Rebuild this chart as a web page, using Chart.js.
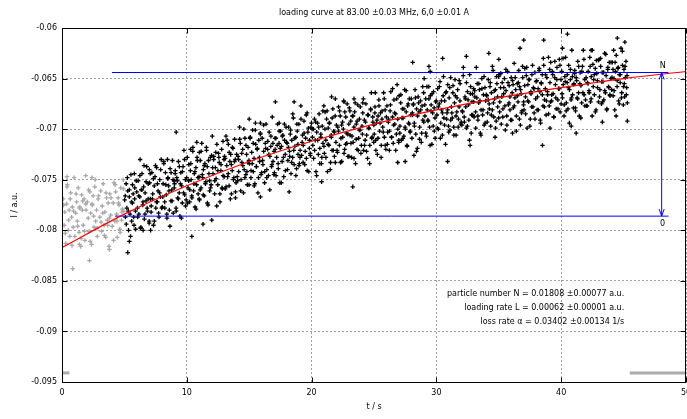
<!DOCTYPE html>
<html>
<head>
<meta charset="utf-8">
<script src="https://cdn.jsdelivr.net/npm/chart.js@4"></script>
<style>
  html, body { margin: 0; padding: 0; background: #fff; }
  canvas { display: block; }
</style>
</head>
<body>
<canvas id="c" width="687" height="419"></canvas>
<script>
// ---- axis ticks ----
const xTicks = [0, 10, 20, 30, 40, 50];
const xTickLabels = ['0', '10', '20', '30', '40', '50'];
const yTicks = [-0.095, -0.09, -0.085, -0.08, -0.075, -0.07, -0.065, -0.06];
const yTickLabels = ['-0.095', '-0.09', '-0.085', '-0.08', '-0.075', '-0.07', '-0.065', '-0.06'];

// ---- samples before the loading starts (grey) [t in s, I in a.u.] ----
const preTrigger = [
[0.10,-0.0769],[0.17,-0.0795],[0.23,-0.0782],[0.30,-0.0813],[0.37,-0.0774],[0.43,-0.0755],[0.50,-0.0800],[0.57,-0.0780],[0.63,-0.0806],[0.70,-0.0763],[0.77,-0.0787],[0.83,-0.0777],[0.90,-0.0797],[0.97,-0.0748],
[1.03,-0.0806],[1.10,-0.0783],[1.17,-0.0772],[1.23,-0.0791],[1.30,-0.0758],[1.37,-0.0802],[1.43,-0.0777],[1.50,-0.0816],[1.57,-0.0765],[1.63,-0.0780],[1.70,-0.0795],[1.77,-0.0769],[1.83,-0.0810],[1.90,-0.0774],
[2.03,-0.0772],[2.10,-0.0788],[2.17,-0.0801],[2.23,-0.0762],[2.30,-0.0783],[2.37,-0.0814],[2.43,-0.0775],[2.50,-0.0766],[2.57,-0.0797],[2.63,-0.0757],[2.70,-0.0791],[2.77,-0.0780],[2.83,-0.0806],[2.90,-0.0769],
[3.03,-0.0787],[3.10,-0.0761],[3.17,-0.0801],[3.23,-0.0776],[3.30,-0.0754],[3.37,-0.0795],[3.43,-0.0782],[3.50,-0.0807],[3.57,-0.0768],[3.63,-0.0790],[3.70,-0.0773],[3.77,-0.0816],[3.83,-0.0764],[3.90,-0.0785],
[4.03,-0.0796],[4.10,-0.0773],[4.17,-0.0753],[4.23,-0.0791],[4.30,-0.0762],[4.37,-0.0784],[4.43,-0.0807],[4.50,-0.0768],[4.57,-0.0775],[4.63,-0.0799],[4.70,-0.0758],[4.77,-0.0790],[4.83,-0.0779],[4.90,-0.0750],
[0.13,-0.0775],[0.26,-0.0803],[0.40,-0.0757],[0.53,-0.0790],[0.66,-0.0769],[0.80,-0.0815],[0.93,-0.0781],
[1.13,-0.0764],[1.26,-0.0796],[1.40,-0.0778],[1.53,-0.0808],[1.66,-0.0771],[1.80,-0.0801],[1.93,-0.0780],
[2.13,-0.0760],[2.26,-0.0811],[2.40,-0.0774],[2.53,-0.0786],[2.66,-0.0750],[2.80,-0.0798],[2.93,-0.0766],
[3.13,-0.0792],[3.26,-0.0783],[3.40,-0.0805],[3.53,-0.0763],[3.66,-0.0795],[3.80,-0.0788],[3.93,-0.0768],
[4.13,-0.0810],[4.26,-0.0755],[4.40,-0.0791],[4.53,-0.0773],[4.66,-0.0802],[4.80,-0.0782],[4.93,-0.0759],
[0.86,-0.0838],[2.20,-0.0830],[3.80,-0.0819],[1.40,-0.0814],[0.40,-0.0747],[1.90,-0.0746],[2.40,-0.0748],[4.95,-0.0781]
];

// ---- loading samples (black) [t in s, I in a.u.] ----
const loading = [
[5.02,-0.0770],[5.08,-0.0787],[5.14,-0.0754],[5.20,-0.0778],[5.27,-0.0761],[5.33,-0.0800],[5.39,-0.0767],[5.45,-0.0784],[5.52,-0.0745],[5.58,-0.0791],[5.64,-0.0773],[5.70,-0.0764],[5.77,-0.0795],[5.83,-0.0758],[5.89,-0.0781],[5.95,-0.0751],
[6.04,-0.0778],[6.10,-0.0751],[6.16,-0.0784],[6.23,-0.0767],[6.29,-0.0798],[6.35,-0.0760],[6.41,-0.0744],[6.48,-0.0775],[6.54,-0.0757],[6.60,-0.0789],[6.66,-0.0763],[6.73,-0.0771],[6.79,-0.0737],[6.85,-0.0781],[6.91,-0.0754],[6.98,-0.0793],
[7.02,-0.0753],[7.08,-0.0769],[7.14,-0.0782],[7.20,-0.0743],[7.27,-0.0764],[7.33,-0.0795],[7.39,-0.0756],[7.45,-0.0747],[7.52,-0.0778],[7.58,-0.0738],[7.64,-0.0772],[7.70,-0.0761],[7.77,-0.0787],[7.83,-0.0750],[7.89,-0.0767],[7.95,-0.0730],
[8.04,-0.0777],[8.10,-0.0754],[8.16,-0.0734],[8.23,-0.0772],[8.29,-0.0743],[8.35,-0.0765],[8.41,-0.0788],[8.48,-0.0749],[8.54,-0.0756],[8.60,-0.0780],[8.66,-0.0739],[8.73,-0.0771],[8.79,-0.0760],[8.85,-0.0731],[8.91,-0.0783],[8.98,-0.0751],
[9.02,-0.0754],[9.08,-0.0741],[9.14,-0.0778],[9.20,-0.0748],[9.27,-0.0768],[9.33,-0.0732],[9.39,-0.0763],[9.45,-0.0786],[9.52,-0.0743],[9.58,-0.0756],[9.64,-0.0773],[9.70,-0.0737],[9.77,-0.0721],[9.83,-0.0765],[9.89,-0.0750],[9.95,-0.0770],
[10.04,-0.0728],[10.10,-0.0758],[10.16,-0.0735],[10.23,-0.0772],[10.29,-0.0741],[10.35,-0.0750],[10.41,-0.0768],[10.48,-0.0722],[10.54,-0.0761],[10.60,-0.0744],[10.66,-0.0777],[10.73,-0.0738],[10.79,-0.0755],[10.85,-0.0731],[10.91,-0.0764],[10.98,-0.0747],
[11.02,-0.0770],[11.08,-0.0731],[11.14,-0.0758],[11.20,-0.0714],[11.27,-0.0748],[11.33,-0.0740],[11.39,-0.0766],[11.45,-0.0734],[11.52,-0.0752],[11.58,-0.0721],[11.64,-0.0737],[11.70,-0.0775],[11.77,-0.0744],[11.83,-0.0761],[11.89,-0.0728],[11.95,-0.0755],
[12.04,-0.0707],[12.10,-0.0744],[12.16,-0.0727],[12.23,-0.0764],[12.29,-0.0738],[12.35,-0.0749],[12.41,-0.0715],[12.48,-0.0755],[12.54,-0.0724],[12.60,-0.0733],[12.66,-0.0772],[12.73,-0.0741],[12.79,-0.0720],[12.85,-0.0759],[12.91,-0.0746],[12.98,-0.0730],
[13.02,-0.0727],[13.08,-0.0759],[13.14,-0.0707],[13.20,-0.0736],[13.27,-0.0747],[13.33,-0.0715],[13.39,-0.0756],[13.45,-0.0732],[13.52,-0.0725],[13.58,-0.0764],[13.64,-0.0741],[13.70,-0.0719],[13.77,-0.0748],[13.83,-0.0710],[13.89,-0.0730],[13.95,-0.0753],
[14.04,-0.0747],[14.10,-0.0727],[14.16,-0.0742],[14.23,-0.0698],[14.29,-0.0714],[14.35,-0.0750],[14.41,-0.0733],[14.48,-0.0720],[14.54,-0.0763],[14.60,-0.0740],[14.66,-0.0709],[14.73,-0.0745],[14.79,-0.0725],[14.85,-0.0755],[14.91,-0.0718],[14.98,-0.0731],
[15.02,-0.0734],[15.08,-0.0708],[15.14,-0.0748],[15.20,-0.0723],[15.27,-0.0701],[15.33,-0.0742],[15.39,-0.0729],[15.45,-0.0754],[15.52,-0.0715],[15.58,-0.0737],[15.64,-0.0720],[15.70,-0.0763],[15.77,-0.0711],[15.83,-0.0732],[15.89,-0.0704],[15.95,-0.0745],
[16.04,-0.0709],[16.10,-0.0735],[16.16,-0.0722],[16.23,-0.0753],[16.29,-0.0714],[16.35,-0.0695],[16.41,-0.0740],[16.48,-0.0720],[16.54,-0.0746],[16.60,-0.0703],[16.66,-0.0727],[16.73,-0.0717],[16.79,-0.0737],[16.85,-0.0688],[16.91,-0.0732],[16.98,-0.0745],
[17.02,-0.0743],[17.08,-0.0720],[17.14,-0.0709],[17.20,-0.0728],[17.27,-0.0695],[17.33,-0.0739],[17.39,-0.0714],[17.45,-0.0753],[17.52,-0.0702],[17.58,-0.0717],[17.64,-0.0732],[17.70,-0.0706],[17.77,-0.0747],[17.83,-0.0711],[17.89,-0.0725],[17.95,-0.0698],
[18.04,-0.0714],[18.10,-0.0731],[18.16,-0.0698],[18.23,-0.0722],[18.29,-0.0705],[18.35,-0.0744],[18.41,-0.0711],[18.48,-0.0728],[18.54,-0.0689],[18.60,-0.0735],[18.66,-0.0717],[18.73,-0.0708],[18.79,-0.0739],[18.85,-0.0702],[18.91,-0.0725],[18.98,-0.0695],
[19.02,-0.0734],[19.08,-0.0721],[19.14,-0.0677],[19.20,-0.0726],[19.27,-0.0706],[19.33,-0.0716],[19.39,-0.0692],[19.45,-0.0735],[19.52,-0.0709],[19.58,-0.0729],[19.64,-0.0684],[19.70,-0.0703],[19.77,-0.0742],[19.83,-0.0711],[19.89,-0.0724],[19.95,-0.0698],
[20.04,-0.0700],[20.10,-0.0716],[20.16,-0.0729],[20.23,-0.0690],[20.29,-0.0711],[20.35,-0.0742],[20.41,-0.0703],[20.48,-0.0694],[20.54,-0.0725],[20.60,-0.0685],[20.66,-0.0719],[20.73,-0.0708],[20.79,-0.0734],[20.85,-0.0697],[20.91,-0.0714],[20.98,-0.0677],
[21.02,-0.0724],[21.08,-0.0683],[21.14,-0.0711],[21.20,-0.0690],[21.27,-0.0742],[21.33,-0.0699],[21.39,-0.0716],[21.45,-0.0694],[21.52,-0.0733],[21.58,-0.0708],[21.64,-0.0721],[21.70,-0.0680],[21.77,-0.0702],[21.83,-0.0727],[21.89,-0.0687],[21.95,-0.0713],
[22.04,-0.0721],[22.10,-0.0698],[22.16,-0.0678],[22.23,-0.0716],[22.29,-0.0687],[22.35,-0.0709],[22.41,-0.0732],[22.48,-0.0693],[22.54,-0.0700],[22.60,-0.0724],[22.66,-0.0683],[22.73,-0.0715],[22.79,-0.0704],[22.85,-0.0675],[22.91,-0.0727],[22.98,-0.0695],
[23.02,-0.0679],[23.08,-0.0706],[23.14,-0.0692],[23.20,-0.0728],[23.27,-0.0687],[23.33,-0.0713],[23.39,-0.0698],[23.45,-0.0683],[23.52,-0.0734],[23.58,-0.0695],[23.64,-0.0720],[23.70,-0.0676],[23.77,-0.0709],[23.83,-0.0690],[23.89,-0.0701],[23.95,-0.0724],
[24.04,-0.0697],[24.10,-0.0684],[24.16,-0.0721],[24.23,-0.0691],[24.29,-0.0711],[24.35,-0.0675],[24.41,-0.0706],[24.48,-0.0729],[24.54,-0.0686],[24.60,-0.0699],[24.66,-0.0716],[24.73,-0.0680],[24.79,-0.0664],[24.85,-0.0708],[24.91,-0.0693],[24.98,-0.0713],
[25.02,-0.0705],[25.08,-0.0678],[25.14,-0.0711],[25.20,-0.0694],[25.27,-0.0725],[25.33,-0.0687],[25.39,-0.0671],[25.45,-0.0702],[25.52,-0.0684],[25.58,-0.0716],[25.64,-0.0690],[25.70,-0.0698],[25.77,-0.0664],[25.83,-0.0708],[25.89,-0.0681],[25.95,-0.0720],
[26.04,-0.0677],[26.10,-0.0703],[26.16,-0.0690],[26.23,-0.0721],[26.29,-0.0682],[26.35,-0.0663],[26.41,-0.0708],[26.48,-0.0688],[26.54,-0.0714],[26.60,-0.0671],[26.66,-0.0695],[26.73,-0.0685],[26.79,-0.0705],[26.85,-0.0656],[26.91,-0.0700],[26.98,-0.0713],
[27.02,-0.0667],[27.08,-0.0697],[27.14,-0.0674],[27.20,-0.0711],[27.27,-0.0680],[27.33,-0.0689],[27.39,-0.0707],[27.45,-0.0661],[27.52,-0.0700],[27.58,-0.0683],[27.64,-0.0716],[27.70,-0.0677],[27.77,-0.0694],[27.83,-0.0670],[27.89,-0.0703],[27.95,-0.0686],
[28.04,-0.0709],[28.10,-0.0686],[28.16,-0.0675],[28.23,-0.0694],[28.29,-0.0661],[28.35,-0.0705],[28.41,-0.0680],[28.48,-0.0719],[28.54,-0.0668],[28.60,-0.0683],[28.66,-0.0698],[28.73,-0.0672],[28.79,-0.0713],[28.85,-0.0677],[28.91,-0.0691],[28.98,-0.0664],
[29.02,-0.0650],[29.08,-0.0687],[29.14,-0.0670],[29.20,-0.0707],[29.27,-0.0681],[29.33,-0.0692],[29.39,-0.0658],[29.45,-0.0698],[29.52,-0.0667],[29.58,-0.0676],[29.64,-0.0715],[29.70,-0.0684],[29.77,-0.0663],[29.83,-0.0702],[29.89,-0.0689],[29.95,-0.0673],
[30.04,-0.0686],[30.10,-0.0660],[30.16,-0.0700],[30.23,-0.0675],[30.29,-0.0653],[30.35,-0.0694],[30.41,-0.0681],[30.48,-0.0706],[30.54,-0.0667],[30.60,-0.0689],[30.66,-0.0672],[30.73,-0.0715],[30.79,-0.0663],[30.85,-0.0684],[30.91,-0.0656],[30.97,-0.0697],
[31.02,-0.0669],[31.08,-0.0701],[31.14,-0.0649],[31.20,-0.0678],[31.27,-0.0689],[31.33,-0.0657],[31.39,-0.0698],[31.45,-0.0674],[31.52,-0.0667],[31.58,-0.0706],[31.64,-0.0683],[31.70,-0.0661],[31.77,-0.0690],[31.83,-0.0652],[31.89,-0.0672],[31.95,-0.0695],
[32.04,-0.0696],[32.10,-0.0683],[32.16,-0.0639],[32.23,-0.0688],[32.29,-0.0668],[32.35,-0.0678],[32.41,-0.0654],[32.48,-0.0697],[32.54,-0.0671],[32.60,-0.0691],[32.66,-0.0646],[32.73,-0.0665],[32.79,-0.0704],[32.85,-0.0673],[32.91,-0.0686],[32.98,-0.0660],
[33.02,-0.0688],[33.08,-0.0668],[33.14,-0.0683],[33.20,-0.0639],[33.27,-0.0655],[33.33,-0.0691],[33.39,-0.0674],[33.45,-0.0661],[33.52,-0.0704],[33.58,-0.0681],[33.64,-0.0650],[33.70,-0.0686],[33.77,-0.0666],[33.83,-0.0696],[33.89,-0.0659],[33.95,-0.0672],
[34.04,-0.0667],[34.10,-0.0684],[34.16,-0.0651],[34.23,-0.0675],[34.29,-0.0658],[34.35,-0.0697],[34.41,-0.0664],[34.48,-0.0681],[34.54,-0.0642],[34.60,-0.0688],[34.66,-0.0670],[34.73,-0.0661],[34.79,-0.0692],[34.85,-0.0655],[34.91,-0.0678],[34.98,-0.0648],
[35.02,-0.0646],[35.08,-0.0673],[35.14,-0.0659],[35.20,-0.0695],[35.27,-0.0654],[35.33,-0.0680],[35.39,-0.0665],[35.45,-0.0650],[35.52,-0.0701],[35.58,-0.0662],[35.64,-0.0687],[35.70,-0.0643],[35.77,-0.0676],[35.83,-0.0657],[35.89,-0.0668],[35.95,-0.0691],
[36.04,-0.0691],[36.10,-0.0652],[36.16,-0.0679],[36.23,-0.0635],[36.29,-0.0669],[36.35,-0.0661],[36.41,-0.0687],[36.48,-0.0655],[36.54,-0.0673],[36.60,-0.0642],[36.66,-0.0658],[36.73,-0.0696],[36.79,-0.0665],[36.85,-0.0682],[36.91,-0.0649],[36.98,-0.0676],
[37.02,-0.0681],[37.08,-0.0640],[37.14,-0.0668],[37.20,-0.0647],[37.27,-0.0699],[37.33,-0.0656],[37.39,-0.0673],[37.45,-0.0651],[37.52,-0.0690],[37.58,-0.0665],[37.64,-0.0678],[37.70,-0.0637],[37.77,-0.0659],[37.83,-0.0684],[37.89,-0.0644],[37.95,-0.0670],
[38.04,-0.0652],[38.10,-0.0668],[38.16,-0.0681],[38.23,-0.0642],[38.29,-0.0663],[38.35,-0.0694],[38.41,-0.0655],[38.48,-0.0646],[38.54,-0.0677],[38.60,-0.0637],[38.66,-0.0671],[38.73,-0.0660],[38.79,-0.0686],[38.85,-0.0649],[38.91,-0.0666],[38.98,-0.0629],
[39.04,-0.0677],[39.10,-0.0654],[39.16,-0.0634],[39.23,-0.0672],[39.29,-0.0643],[39.35,-0.0665],[39.41,-0.0688],[39.48,-0.0649],[39.54,-0.0656],[39.60,-0.0680],[39.66,-0.0639],[39.73,-0.0671],[39.79,-0.0660],[39.85,-0.0631],[39.91,-0.0683],[39.98,-0.0651],
[40.04,-0.0643],[40.10,-0.0669],[40.16,-0.0656],[40.23,-0.0687],[40.29,-0.0648],[40.35,-0.0629],[40.41,-0.0674],[40.48,-0.0654],[40.54,-0.0680],[40.60,-0.0637],[40.66,-0.0661],[40.73,-0.0651],[40.79,-0.0671],[40.85,-0.0622],[40.91,-0.0666],[40.98,-0.0679],
[41.02,-0.0655],[41.08,-0.0642],[41.14,-0.0679],[41.20,-0.0649],[41.27,-0.0669],[41.33,-0.0633],[41.39,-0.0664],[41.45,-0.0687],[41.52,-0.0644],[41.58,-0.0657],[41.64,-0.0674],[41.70,-0.0638],[41.77,-0.0622],[41.83,-0.0666],[41.89,-0.0651],[41.95,-0.0671],
[42.04,-0.0677],[42.10,-0.0654],[42.16,-0.0643],[42.23,-0.0662],[42.29,-0.0629],[42.35,-0.0673],[42.41,-0.0648],[42.48,-0.0687],[42.54,-0.0636],[42.60,-0.0651],[42.66,-0.0666],[42.73,-0.0640],[42.79,-0.0681],[42.85,-0.0645],[42.91,-0.0659],[42.98,-0.0632],
[43.04,-0.0631],[43.10,-0.0661],[43.16,-0.0638],[43.23,-0.0675],[43.29,-0.0644],[43.35,-0.0653],[43.41,-0.0671],[43.48,-0.0625],[43.54,-0.0664],[43.60,-0.0647],[43.66,-0.0680],[43.73,-0.0641],[43.79,-0.0658],[43.85,-0.0634],[43.91,-0.0667],[43.98,-0.0650],
[44.04,-0.0661],[44.10,-0.0634],[44.16,-0.0667],[44.23,-0.0650],[44.29,-0.0681],[44.35,-0.0643],[44.41,-0.0627],[44.48,-0.0658],[44.54,-0.0640],[44.60,-0.0672],[44.66,-0.0646],[44.73,-0.0654],[44.79,-0.0620],[44.85,-0.0664],[44.91,-0.0637],[44.98,-0.0676],
[45.03,-0.0641],[45.08,-0.0668],[45.14,-0.0649],[45.19,-0.0633],[45.25,-0.0659],[45.30,-0.0674],
[5.07,-0.0766],[5.15,-0.0794],[5.24,-0.0748],[5.32,-0.0781],[5.40,-0.0760],[5.49,-0.0806],[5.57,-0.0772],[5.65,-0.0755],[5.74,-0.0787],[5.82,-0.0769],[5.90,-0.0799],[5.99,-0.0762],
[6.07,-0.0787],[6.15,-0.0766],[6.24,-0.0746],[6.32,-0.0797],[6.40,-0.0760],[6.49,-0.0772],[6.57,-0.0736],[6.65,-0.0784],[6.74,-0.0752],[6.82,-0.0778],[6.90,-0.0769],[6.99,-0.0791],
[7.07,-0.0744],[7.15,-0.0776],[7.24,-0.0769],[7.32,-0.0749],[7.40,-0.0791],[7.49,-0.0736],[7.57,-0.0772],[7.65,-0.0754],[7.74,-0.0783],[7.82,-0.0763],[7.90,-0.0740],[7.99,-0.0778],
[8.07,-0.0767],[8.15,-0.0732],[8.24,-0.0778],[8.32,-0.0755],[8.40,-0.0784],[8.49,-0.0748],[8.57,-0.0761],[8.65,-0.0796],[8.74,-0.0743],[8.82,-0.0771],[8.90,-0.0750],[8.99,-0.0758],
[9.07,-0.0744],[9.15,-0.0781],[9.24,-0.0751],[9.32,-0.0769],[9.40,-0.0737],[9.49,-0.0754],[9.57,-0.0788],[9.65,-0.0742],[9.74,-0.0763],[9.82,-0.0730],[9.90,-0.0776],[9.99,-0.0748],
[10.07,-0.0773],[10.15,-0.0751],[10.24,-0.0760],[10.32,-0.0734],[10.40,-0.0766],[10.49,-0.0718],[10.57,-0.0754],[10.65,-0.0742],[10.74,-0.0779],[10.82,-0.0728],[10.90,-0.0748],[10.99,-0.0769],
[11.07,-0.0760],[11.15,-0.0722],[11.24,-0.0745],[11.32,-0.0765],[11.40,-0.0736],[11.49,-0.0754],[11.57,-0.0718],[11.65,-0.0773],[11.74,-0.0731],[11.82,-0.0751],[11.90,-0.0758],[11.99,-0.0726],
[12.07,-0.0738],[12.15,-0.0730],[12.24,-0.0751],[12.32,-0.0723],[12.40,-0.0776],[12.49,-0.0741],[12.57,-0.0728],[12.65,-0.0764],[12.74,-0.0735],[12.82,-0.0758],[12.90,-0.0712],[12.99,-0.0747],
[13.07,-0.0729],[13.15,-0.0757],[13.24,-0.0711],[13.32,-0.0744],[13.40,-0.0723],[13.49,-0.0769],[13.57,-0.0735],[13.65,-0.0718],[13.74,-0.0750],[13.82,-0.0732],[13.90,-0.0762],[13.99,-0.0725],
[14.07,-0.0751],[14.15,-0.0730],[14.24,-0.0710],[14.32,-0.0761],[14.40,-0.0724],[14.49,-0.0736],[14.57,-0.0700],[14.65,-0.0748],[14.74,-0.0716],[14.82,-0.0742],[14.90,-0.0733],[14.99,-0.0755],
[15.07,-0.0709],[15.15,-0.0741],[15.24,-0.0734],[15.32,-0.0714],[15.40,-0.0756],[15.49,-0.0701],[15.57,-0.0737],[15.65,-0.0719],[15.74,-0.0748],[15.82,-0.0728],[15.90,-0.0705],[15.99,-0.0743],
[16.07,-0.0731],[16.15,-0.0696],[16.24,-0.0742],[16.32,-0.0719],[16.40,-0.0748],[16.49,-0.0712],[16.57,-0.0725],[16.65,-0.0760],[16.74,-0.0707],[16.82,-0.0735],[16.90,-0.0714],[16.99,-0.0722],
[17.07,-0.0709],[17.15,-0.0746],[17.24,-0.0716],[17.32,-0.0734],[17.40,-0.0702],[17.49,-0.0719],[17.57,-0.0753],[17.65,-0.0707],[17.74,-0.0728],[17.82,-0.0695],[17.90,-0.0741],[17.99,-0.0713],
[18.07,-0.0740],[18.15,-0.0718],[18.24,-0.0727],[18.32,-0.0701],[18.40,-0.0733],[18.49,-0.0685],[18.57,-0.0721],[18.65,-0.0709],[18.74,-0.0746],[18.82,-0.0695],[18.90,-0.0715],[18.99,-0.0736],
[19.07,-0.0728],[19.15,-0.0690],[19.24,-0.0713],[19.32,-0.0733],[19.40,-0.0704],[19.49,-0.0722],[19.57,-0.0686],[19.65,-0.0741],[19.74,-0.0699],[19.82,-0.0719],[19.90,-0.0726],[19.99,-0.0694],
[20.07,-0.0708],[20.15,-0.0700],[20.24,-0.0721],[20.32,-0.0693],[20.40,-0.0746],[20.49,-0.0711],[20.57,-0.0698],[20.65,-0.0734],[20.74,-0.0705],[20.82,-0.0728],[20.90,-0.0682],[20.99,-0.0717],
[21.07,-0.0700],[21.15,-0.0728],[21.24,-0.0682],[21.32,-0.0715],[21.40,-0.0694],[21.49,-0.0740],[21.57,-0.0706],[21.65,-0.0689],[21.74,-0.0721],[21.82,-0.0703],[21.90,-0.0733],[21.99,-0.0696],
[22.07,-0.0723],[22.15,-0.0702],[22.24,-0.0682],[22.32,-0.0733],[22.40,-0.0696],[22.49,-0.0708],[22.57,-0.0672],[22.65,-0.0720],[22.74,-0.0688],[22.82,-0.0714],[22.90,-0.0705],[22.99,-0.0727],
[23.07,-0.0682],[23.15,-0.0714],[23.24,-0.0707],[23.32,-0.0687],[23.40,-0.0729],[23.49,-0.0674],[23.57,-0.0710],[23.65,-0.0692],[23.74,-0.0721],[23.82,-0.0701],[23.90,-0.0678],[23.99,-0.0716],
[24.07,-0.0705],[24.15,-0.0670],[24.24,-0.0716],[24.32,-0.0693],[24.40,-0.0722],[24.49,-0.0686],[24.57,-0.0699],[24.65,-0.0734],[24.74,-0.0681],[24.82,-0.0709],[24.90,-0.0688],[24.99,-0.0696],
[25.07,-0.0684],[25.15,-0.0721],[25.24,-0.0691],[25.32,-0.0709],[25.40,-0.0677],[25.49,-0.0694],[25.57,-0.0728],[25.65,-0.0682],[25.74,-0.0703],[25.82,-0.0670],[25.90,-0.0716],[25.99,-0.0688],
[26.07,-0.0715],[26.15,-0.0693],[26.24,-0.0702],[26.32,-0.0676],[26.40,-0.0708],[26.49,-0.0660],[26.57,-0.0696],[26.65,-0.0684],[26.74,-0.0721],[26.82,-0.0670],[26.90,-0.0690],[26.99,-0.0711],
[27.07,-0.0704],[27.15,-0.0666],[27.24,-0.0689],[27.32,-0.0709],[27.40,-0.0680],[27.49,-0.0698],[27.57,-0.0662],[27.65,-0.0717],[27.74,-0.0675],[27.82,-0.0695],[27.90,-0.0702],[27.99,-0.0670],
[28.07,-0.0684],[28.15,-0.0676],[28.24,-0.0697],[28.32,-0.0669],[28.40,-0.0722],[28.49,-0.0687],[28.57,-0.0674],[28.65,-0.0710],[28.74,-0.0681],[28.82,-0.0704],[28.90,-0.0658],[28.99,-0.0693],
[29.07,-0.0676],[29.15,-0.0704],[29.24,-0.0658],[29.32,-0.0691],[29.40,-0.0670],[29.49,-0.0716],[29.57,-0.0682],[29.65,-0.0665],[29.74,-0.0697],[29.82,-0.0679],[29.90,-0.0709],[29.99,-0.0672],
[30.07,-0.0699],[30.15,-0.0678],[30.24,-0.0658],[30.32,-0.0709],[30.40,-0.0672],[30.49,-0.0684],[30.57,-0.0648],[30.65,-0.0696],[30.74,-0.0664],[30.82,-0.0690],[30.90,-0.0681],[30.99,-0.0703],
[31.07,-0.0659],[31.15,-0.0691],[31.24,-0.0684],[31.32,-0.0664],[31.40,-0.0706],[31.49,-0.0651],[31.57,-0.0687],[31.65,-0.0669],[31.74,-0.0698],[31.82,-0.0678],[31.90,-0.0655],[31.99,-0.0693],
[32.07,-0.0682],[32.15,-0.0647],[32.24,-0.0693],[32.32,-0.0670],[32.40,-0.0699],[32.49,-0.0663],[32.57,-0.0676],[32.65,-0.0711],[32.74,-0.0658],[32.82,-0.0686],[32.90,-0.0665],[32.99,-0.0673],
[33.07,-0.0662],[33.15,-0.0699],[33.24,-0.0669],[33.32,-0.0687],[33.40,-0.0655],[33.49,-0.0672],[33.57,-0.0706],[33.65,-0.0660],[33.74,-0.0681],[33.82,-0.0648],[33.90,-0.0694],[33.99,-0.0666],
[34.07,-0.0693],[34.15,-0.0671],[34.24,-0.0680],[34.32,-0.0654],[34.40,-0.0686],[34.49,-0.0638],[34.57,-0.0674],[34.65,-0.0662],[34.74,-0.0699],[34.82,-0.0648],[34.90,-0.0668],[34.99,-0.0689],
[35.07,-0.0683],[35.15,-0.0645],[35.24,-0.0668],[35.32,-0.0688],[35.40,-0.0659],[35.49,-0.0677],[35.57,-0.0641],[35.65,-0.0696],[35.74,-0.0654],[35.82,-0.0674],[35.90,-0.0681],[35.99,-0.0649],
[36.07,-0.0664],[36.15,-0.0656],[36.24,-0.0677],[36.32,-0.0649],[36.40,-0.0702],[36.49,-0.0667],[36.57,-0.0654],[36.65,-0.0690],[36.74,-0.0661],[36.82,-0.0684],[36.90,-0.0638],[36.99,-0.0673],
[37.07,-0.0657],[37.15,-0.0685],[37.24,-0.0639],[37.32,-0.0672],[37.40,-0.0651],[37.49,-0.0697],[37.57,-0.0663],[37.65,-0.0646],[37.74,-0.0678],[37.82,-0.0660],[37.90,-0.0690],[37.99,-0.0653],
[38.07,-0.0681],[38.15,-0.0660],[38.24,-0.0640],[38.32,-0.0691],[38.40,-0.0654],[38.49,-0.0666],[38.57,-0.0630],[38.65,-0.0678],[38.74,-0.0646],[38.82,-0.0672],[38.90,-0.0663],[38.99,-0.0685],
[39.07,-0.0641],[39.15,-0.0673],[39.24,-0.0666],[39.32,-0.0646],[39.40,-0.0688],[39.49,-0.0633],[39.57,-0.0669],[39.65,-0.0651],[39.74,-0.0680],[39.82,-0.0660],[39.90,-0.0637],[39.99,-0.0675],
[40.07,-0.0665],[40.15,-0.0630],[40.24,-0.0676],[40.32,-0.0653],[40.40,-0.0682],[40.49,-0.0646],[40.57,-0.0659],[40.65,-0.0694],[40.74,-0.0641],[40.82,-0.0669],[40.90,-0.0648],[40.99,-0.0656],
[41.07,-0.0645],[41.15,-0.0682],[41.24,-0.0652],[41.32,-0.0670],[41.40,-0.0638],[41.49,-0.0655],[41.57,-0.0689],[41.65,-0.0643],[41.74,-0.0664],[41.82,-0.0631],[41.90,-0.0677],[41.99,-0.0649],
[42.07,-0.0677],[42.15,-0.0655],[42.24,-0.0664],[42.32,-0.0638],[42.40,-0.0670],[42.49,-0.0622],[42.57,-0.0658],[42.65,-0.0646],[42.74,-0.0683],[42.82,-0.0632],[42.90,-0.0652],[42.99,-0.0673],
[43.07,-0.0668],[43.15,-0.0630],[43.24,-0.0653],[43.32,-0.0673],[43.40,-0.0644],[43.49,-0.0662],[43.57,-0.0626],[43.65,-0.0681],[43.74,-0.0639],[43.82,-0.0659],[43.90,-0.0666],[43.99,-0.0634],
[44.07,-0.0649],[44.15,-0.0641],[44.24,-0.0662],[44.32,-0.0634],[44.40,-0.0687],[44.49,-0.0652],[44.57,-0.0639],[44.65,-0.0675],[44.74,-0.0646],[44.82,-0.0669],[44.90,-0.0623],[44.99,-0.0658],
[45.06,-0.0655],[45.12,-0.0638],[45.22,-0.0666],[45.28,-0.0647],
[5.27,-0.0822],[5.40,-0.0811],[6.50,-0.0800],[7.10,-0.0800],[10.40,-0.0806],[11.30,-0.0794],[12.00,-0.0790],[5.80,-0.0744],[6.26,-0.0730],[7.00,-0.0740],[8.45,-0.0730],[9.15,-0.0703],[10.30,-0.0720],[10.80,-0.0713],[11.00,-0.0723],
[13.90,-0.0768],[15.90,-0.0767],[18.20,-0.0762],[20.80,-0.0752],[23.30,-0.0757],[15.00,-0.0690],[15.50,-0.0694],[15.90,-0.0694],[17.10,-0.0673],[17.40,-0.0694],[18.60,-0.0673],[21.60,-0.0668],[21.90,-0.0670],[22.60,-0.0673],[23.40,-0.0670],[24.10,-0.0674],[25.10,-0.0664],
[26.90,-0.0733],[27.50,-0.0732],[28.20,-0.0726],[28.10,-0.0634],[29.40,-0.0638],[29.50,-0.0643],[30.50,-0.0630],[30.90,-0.0732],[32.40,-0.0628],[32.70,-0.0716],[34.20,-0.0625],[34.70,-0.0708],[35.00,-0.0631],[36.10,-0.0704],[36.70,-0.0620],[37.00,-0.0612],
[38.50,-0.0716],[38.60,-0.0612],[39.10,-0.0699],[40.10,-0.0620],[40.50,-0.0606],[40.80,-0.0697],[41.20,-0.0704],[42.40,-0.0622],[43.30,-0.0693],[44.20,-0.0622],[44.50,-0.0610],[45.10,-0.0614],[45.30,-0.0692]
];

// ---- fitted loading curve (red) ----
const fitCurve = [
[0,-0.0817],[5,-0.0784],[10,-0.0756],[15,-0.0732],[20,-0.0712],[25,-0.0695],
[30,-0.0681],[35,-0.0669],[40,-0.0659],[45,-0.0650],[50,-0.0643]
];

// ---- N / 0 marker levels and the arrow between them ----
const levelN = -0.0644;
const level0 = -0.0786;
const levelNSpan = [4.0, 48.6];
const level0Span = [4.25, 48.6];
const arrowT = 48.05;

// ---- samples outside the acquisition window (grey baseline) ----
const baselineLevel = -0.0941;
const baselineLeft = [0, 0.6];
const baselineRight = [45.5, 50];

const titleText = 'loading curve at 83.00 \u00b10.03 MHz, 6,0 \u00b10.01 A';
const fitText = [
  'particle number N = 0.01808 \u00b10.00077 a.u.',
  'loading rate L = 0.00062 \u00b10.00001 a.u.',
  'loss rate \u03b1 = 0.03402 \u00b10.00134 1/s'
];

const FONT = '"DejaVu Sans", "Liberation Sans", sans-serif';
Chart.defaults.font.family = FONT;
Chart.defaults.font.size = 8;
Chart.defaults.color = '#000';

const pts = arr => arr.map(([x, y]) => ({ x, y }));
const hline = (span, v) => [{ x: span[0], y: v }, { x: span[1], y: v }];

// keep the plot frame flush with the canvas: no extra room for edge tick labels
const noEdgePadding = s => {
  s.paddingLeft = 0; s.paddingRight = 0; s.paddingTop = 0; s.paddingBottom = 0;
};

// title, frame, inward tick marks, arrow heads and text annotations
const decorations = {
  id: 'decorations',
  afterDatasetsDraw(chart) {
    const { ctx, chartArea: a, scales: { x, y } } = chart;
    ctx.save();
    const ax = x.getPixelForValue(arrowT);
    const yN = y.getPixelForValue(levelN);
    const y0 = y.getPixelForValue(level0);
    ctx.strokeStyle = '#0000ff';
    ctx.lineWidth = 1;
    ctx.beginPath();
    ctx.moveTo(ax - 2.5, yN + 7); ctx.lineTo(ax, yN); ctx.lineTo(ax + 2.5, yN + 7);
    ctx.moveTo(ax - 2.5, y0 - 7); ctx.lineTo(ax, y0); ctx.lineTo(ax + 2.5, y0 - 7);
    ctx.stroke();

    ctx.fillStyle = '#000';
    ctx.font = '8px ' + FONT;
    ctx.textAlign = 'center';
    ctx.textBaseline = 'middle';
    ctx.fillText('N', ax + 1, yN - 7);
    ctx.fillText('0', ax + 1, y0 + 8);
    ctx.fillText(titleText, (a.left + a.right) / 2, 13);

    ctx.textAlign = 'right';
    const tx = x.getPixelForValue(45.05);
    const ty = y.getPixelForValue(-0.0863);
    fitText.forEach((s, i) => ctx.fillText(s, tx, ty + i * 14));
    ctx.restore();
  },
  afterDraw(chart) {
    const { ctx, chartArea: a, scales: { x, y } } = chart;
    const L = Math.round(a.left) + 0.5, R = Math.round(a.right) - 0.5;
    const T = Math.round(a.top) + 0.5, B = Math.round(a.bottom) + 0.5;
    ctx.save();
    ctx.strokeStyle = '#000';
    ctx.lineWidth = 1;
    ctx.beginPath();
    xTicks.forEach(v => {
      const px = Math.round(x.getPixelForValue(v)) + 0.5;
      ctx.moveTo(px, B); ctx.lineTo(px, B - 5);
      ctx.moveTo(px, T); ctx.lineTo(px, T + 5);
    });
    yTicks.forEach(v => {
      const py = Math.round(y.getPixelForValue(v)) + 0.5;
      ctx.moveTo(L, py); ctx.lineTo(L + 5, py);
      ctx.moveTo(R, py); ctx.lineTo(R - 5, py);
    });
    ctx.stroke();
    ctx.strokeRect(L, T, R - L, B - T);
    ctx.restore();
  }
};

new Chart(document.getElementById('c'), {
  type: 'scatter',
  data: {
    datasets: [
      { label: 'fit', data: pts(fitCurve), showLine: true, borderColor: '#ff0000', borderWidth: 1.2,
        pointRadius: 0, cubicInterpolationMode: 'monotone', order: 1 },
      { label: 'N', data: hline(levelNSpan, levelN), showLine: true, borderColor: '#0000ff', borderWidth: 1,
        pointRadius: 0, order: 2 },
      { label: '0', data: hline(level0Span, level0), showLine: true, borderColor: '#0000ff', borderWidth: 1,
        pointRadius: 0, order: 2 },
      { label: 'arrow', data: [{ x: arrowT, y: level0 }, { x: arrowT, y: levelN }], showLine: true,
        borderColor: '#0000ff', borderWidth: 1, pointRadius: 0, order: 2 },
      { label: 'loading', data: pts(loading), pointStyle: 'cross', pointRadius: 2.2,
        borderColor: '#000', borderWidth: 1.3, order: 3 },
      { label: 'pre', data: pts(preTrigger), pointStyle: 'cross', pointRadius: 2.2,
        borderColor: '#a8a8a8', borderWidth: 1.3, order: 4 },
      { label: 'baseline left', data: hline(baselineLeft, baselineLevel), showLine: true,
        borderColor: '#aaaaaa', borderWidth: 3, pointRadius: 0, order: 4 },
      { label: 'baseline right', data: hline(baselineRight, baselineLevel), showLine: true,
        borderColor: '#aaaaaa', borderWidth: 3, pointRadius: 0, order: 4 }
    ]
  },
  options: {
    responsive: false,
    animation: false,
    devicePixelRatio: 1,
    events: [],
    elements: { point: { hoverRadius: 0, hitRadius: 0 } },
    layout: { autoPadding: false, padding: { left: 0, right: 1, top: 28, bottom: 0 } },
    plugins: {
      legend: { display: false },
      tooltip: { enabled: false },
      title: { display: false }
    },
    scales: {
      x: {
        type: 'linear', min: 0, max: 50,
        afterBuildTicks: s => { s.ticks = xTicks.map(v => ({ value: v })); },
        ticks: { callback: (v, i) => xTickLabels[i], padding: 6, maxRotation: 0, autoSkip: false, color: '#000' },
        grid: { color: '#a0a0a0', lineWidth: 1, drawTicks: false },
        border: { display: false, dash: [2, 2] },
        title: { display: true, text: 't / s', color: '#000', font: { size: 8 }, padding: { top: 0, bottom: 7.2 } },
        afterFit: s => { s.height = 37; noEdgePadding(s); }
      },
      y: {
        type: 'linear', min: -0.095, max: -0.06,
        afterBuildTicks: s => { s.ticks = yTicks.map(v => ({ value: v })); },
        ticks: { callback: (v, i) => yTickLabels[i], padding: 5, autoSkip: false, color: '#000' },
        grid: { color: '#a0a0a0', lineWidth: 1, drawTicks: false },
        border: { display: false, dash: [2, 2] },
        title: { display: true, text: 'I / a.u.', color: '#000', font: { size: 8 }, padding: { top: 10.2, bottom: 0 } },
        afterFit: s => { s.width = 62; noEdgePadding(s); }
      }
    }
  },
  plugins: [decorations]
});
</script>
</body>
</html>
